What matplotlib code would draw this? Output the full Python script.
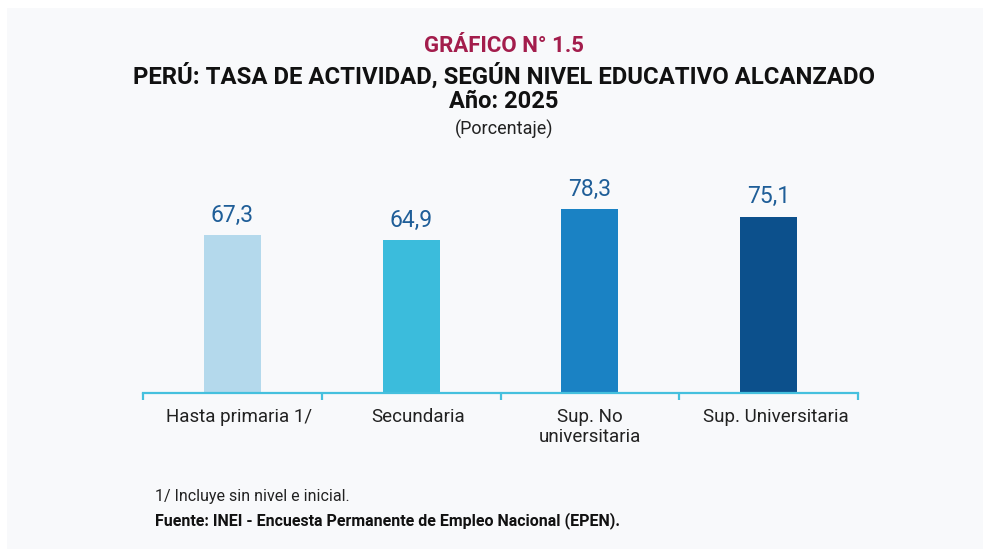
import numpy as np
import matplotlib
matplotlib.use("Agg")
from matplotlib import pyplot as plt
from matplotlib.patches import Rectangle
from matplotlib.transforms import ScaledTranslation

# datos del gráfico
categorias = ["Hasta primaria 1/", "Secundaria", "Sup. No\nuniversitaria", "Sup. Universitaria"]
valores = [67.3, 64.9, 78.3, 75.1]
etiquetas = ["67,3", "64,9", "78,3", "75,1"]
colores = ["#b4d9ec", "#3bbcdc", "#1a82c4", "#0c508c"]

plt.rcParams['font.family'] = ['Roboto', 'DejaVu Sans']

fig = plt.figure(figsize=(9.83, 5.49), dpi=100)
fig.patch.set_facecolor("white")
# panel gris claro de fondo
fig.patches.append(Rectangle((7 / 983, 0), 1 - 7 / 983, 1 - 8 / 549, transform=fig.transFigure,
                             facecolor="#f8f9fb", edgecolor="none", zorder=-1))

ax = fig.add_axes([143 / 983, 1 - 393 / 549, 715 / 983, 235 / 549])
ax.set_facecolor("none")

x = np.arange(len(categorias))
ax.bar(x, valores, width=0.32, color=colores, zorder=2)
for xi, v, t in zip(x, valores, etiquetas):
    ax.annotate(t, (xi, v), xytext=(0, 6), textcoords="offset points",
                ha="center", va="bottom", fontsize=16.5, color="#1f5e98")

ax.set_xlim(-0.5, 3.5)
ax.set_ylim(0, 100)
ax.set_yticks([])
for s in ["top", "right", "left"]:
    ax.spines[s].set_visible(False)
ax.spines["bottom"].set_color("#45c0de")
ax.spines["bottom"].set_linewidth(1.6)

ax.set_xticks(x)
ax.set_xticklabels(categorias, fontsize=13.5, color="#222222", linespacing=1.15)
ax.tick_params(axis="x", which="major", length=0, pad=11)
ax.set_xticks([-0.5, 0.5, 1.5, 2.5, 3.5], minor=True)
ax.tick_params(axis="x", which="minor", length=5, width=1.6, color="#45c0de", direction="out")
# las etiquetas de una línea van algo corridas a la derecha
for lbl in ax.get_xticklabels():
    if "\n" not in lbl.get_text():
        lbl.set_transform(lbl.get_transform() + ScaledTranslation(7 / 100, 0, fig.dpi_scale_trans))

# títulos
xc = 504 / 983
fig.text(xc, 1 - 46 / 549, "GRÁFICO N° 1.5", ha="center", va="center",
         fontsize=16, fontweight="bold", color="#a31d4c")
fig.text(xc, 1 - 76 / 549, "PERÚ: TASA DE ACTIVIDAD, SEGÚN NIVEL EDUCATIVO ALCANZADO",
         ha="center", va="center", fontsize=17.2, fontweight="bold", color="#111111")
fig.text(xc, 1 - 102 / 549, "Año: 2025", ha="center", va="center",
         fontsize=17, fontweight="bold", color="#111111")
fig.text(xc, 1 - 129 / 549, "(Porcentaje)", ha="center", va="center",
         fontsize=13, color="#222222")

# notas
fig.text(155 / 983, 1 - 497 / 549, "1/ Incluye sin nivel e inicial.", ha="left", va="center",
         fontsize=11.5, color="#222222")
fig.text(155 / 983, 1 - 521 / 549, "Fuente: INEI - Encuesta Permanente de Empleo Nacional (EPEN).",
         ha="left", va="center", fontsize=11.5, fontweight="bold", color="#111111")

fig.savefig("out.png", dpi=100)
